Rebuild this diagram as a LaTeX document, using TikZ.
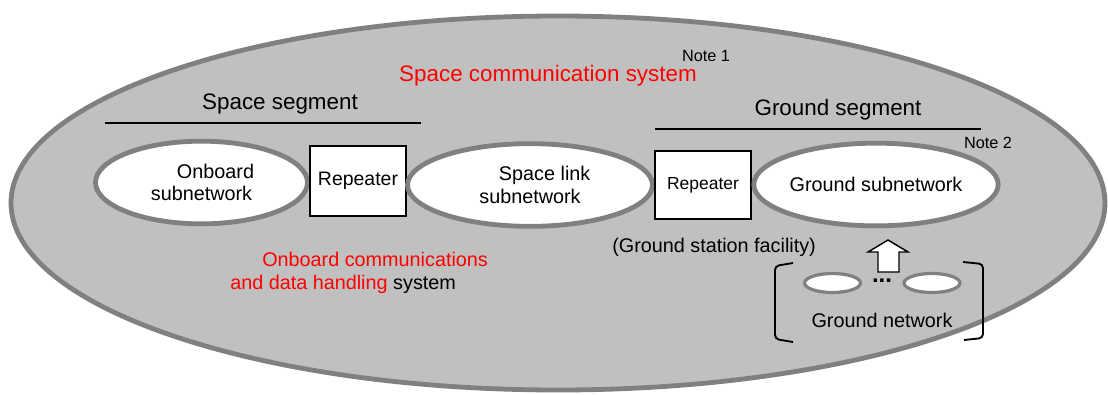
\documentclass[tikz,border=0pt]{standalone}
\usepackage{fontspec}
\setmainfont{Liberation Sans}
\usetikzlibrary{shapes.geometric}
\definecolor{sysgray}{HTML}{C0C0C0}
\definecolor{rimgray}{HTML}{808080}
\tikzset{
  subnet/.style={ellipse,draw=rimgray,line width=3.6pt,fill=white,inner sep=0pt,
    minimum height=62pt,align=center,font=\fontsize{14.85}{17}\selectfont},
  repbox/.style={rectangle,draw=black,line width=1.2pt,fill=white,inner sep=0pt,
    minimum width=72pt,align=center},
  minisub/.style={ellipse,draw=rimgray,line width=2.4pt,fill=white,inner sep=0pt,
    minimum width=42pt,minimum height=14.25pt},
  titletxt/.style={inner sep=0pt,font=\fontsize{16.8}{20}\selectfont},
  plaintxt/.style={inner sep=0pt,font=\fontsize{14.85}{17}\selectfont},
  notetxt/.style={inner sep=0pt,font=\fontsize{12.2}{14}\selectfont},
  segline/.style={line width=1.5pt},
  bracketline/.style={line width=1.4pt,rounded corners=3pt}
}
\begin{document}
\begin{tikzpicture}[x=0.75pt,y=-0.75pt]

\useasboundingbox (0,0) rectangle (1108,394);

\draw [draw=rimgray,fill=sysgray,line width=3.6pt] (558,203) ellipse [x radius=410.25pt,y radius=140.25pt];  %%大椭圆

\node [titletxt,text=red] (scs) at (548,76) {Space communication system};
\node [notetxt] (note1) at (706,56) {Note 1};

\node [titletxt] (spaceseg) at (280,104) {Space segment};
\draw [segline] (105,123) -- (421,123);  %%横线
\node [titletxt] (groundseg) at (838,110) {Ground segment};
\draw [segline] (655,129) -- (981,129);  %%横线
\node [notetxt] (note2) at (988,143) {Note 2};

\node [subnet,minimum width=159pt] (onboard) at (201.5,182.5) {\hspace*{21pt}Onboard\\subnetwork};
\node [repbox,minimum height=52.5pt,font=\fontsize{14.6}{17}\selectfont] (rep1) at (358,181) {Repeater};
\node [subnet,minimum width=183.75pt] (spacelink) at (530,185) {\hspace*{22pt}Space link\\subnetwork};
\node [repbox,minimum height=51pt,font=\fontsize{13.1}{15}\selectfont] (rep2) at (703,185) {Repeater};
\node [subnet,minimum width=182.25pt] (groundsub) at (876,184.5) {Ground subnetwork};

\node [plaintxt,anchor=west,text=red] (obc1) at (262,259) {Onboard communications};
\node [plaintxt,anchor=west] (obc2) at (230,284) {\textcolor{red}{and data handling} system};
\node [plaintxt,anchor=west] (gsf) at (612,247) {(Ground station facility)};

\draw [fill=white,line width=1.1pt] (888,240) -- (908,252) -- (899,252) -- (899,272)
  -- (878,272) -- (878,252) -- (868,252) -- cycle;  %%空心箭头

\node [minisub] (gn1) at (832.5,283) {};
\node [minisub] (gn2) at (932,283) {};
\node [inner sep=0pt,font=\fontsize{18}{20}\bfseries] (gndots) at (882,281) {...};
\node [plaintxt] (gnet) at (882,320) {Ground network};
\draw [bracketline] (793,263) -- (775,266) -- (775,339) -- (793,342);  %%左括号
\draw [bracketline] (963,262) -- (983,264) -- (983,338) -- (964,340);  %%右括号

\end{tikzpicture}
\end{document}
